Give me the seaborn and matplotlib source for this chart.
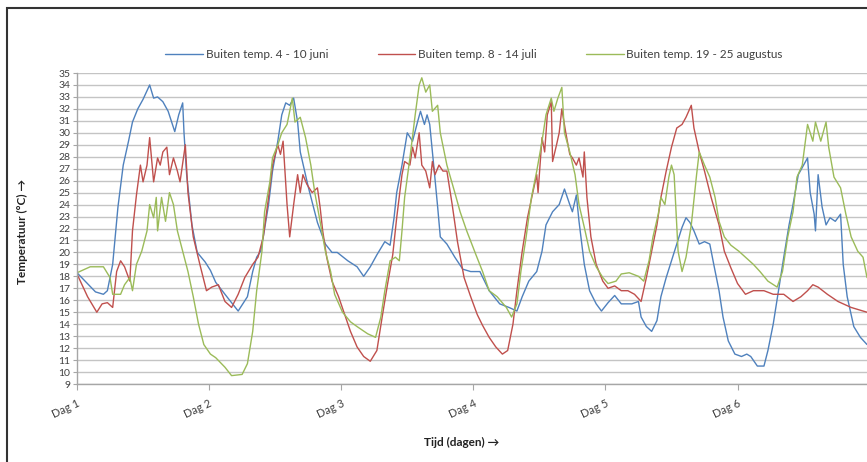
import numpy as np
import pandas as pd
import seaborn as sns
import matplotlib
matplotlib.use("Agg")
import matplotlib.pyplot as plt
from matplotlib.patches import Rectangle

juni_dag = [0.00, 0.14, 0.20, 0.23, 0.27, 0.31, 0.35, 0.39, 0.42, 0.46, 0.50, 0.55, 0.58, 0.61, 0.65,
            0.69, 0.74, 0.77, 0.80, 0.81, 0.83, 0.87, 0.91, 0.97, 1.01, 1.05, 1.12, 1.22, 1.29, 1.33,
            1.36, 1.39, 1.41, 1.45, 1.48, 1.52, 1.55, 1.58, 1.61, 1.64, 1.67, 1.69, 1.75, 1.82, 1.88,
            1.93, 1.97, 2.05, 2.12, 2.17, 2.22, 2.27, 2.33, 2.37, 2.40, 2.42, 2.46, 2.50, 2.54, 2.58,
            2.60, 2.63, 2.65, 2.67, 2.70, 2.73, 2.75, 2.80, 2.86, 2.92, 2.98, 3.05, 3.12, 3.20, 3.27,
            3.33, 3.37, 3.42, 3.48, 3.52, 3.55, 3.60, 3.65, 3.69, 3.73, 3.75, 3.78, 3.80, 3.84, 3.88,
            3.93, 3.97, 4.02, 4.07, 4.12, 4.20, 4.25, 4.27, 4.31, 4.35, 4.39, 4.42, 4.46, 4.50, 4.54,
            4.58, 4.61, 4.64, 4.67, 4.71, 4.75, 4.79, 4.82, 4.86, 4.89, 4.93, 4.98, 5.03, 5.07, 5.10,
            5.15, 5.20, 5.23, 5.27, 5.31, 5.35, 5.39, 5.42, 5.46, 5.50, 5.53, 5.55, 5.58, 5.59, 5.61,
            5.64, 5.67, 5.70, 5.74, 5.78, 5.80, 5.83, 5.88, 5.93, 5.98]
juni_temp = [18.3, 16.7, 16.5, 16.8, 19.0, 23.8, 27.3, 29.3, 30.9, 32.0, 32.8, 34.0, 32.9, 33.0, 32.6,
             31.8, 30.1, 31.5, 32.5, 30.0, 26.5, 22.3, 20.0, 19.2, 18.5, 17.5, 16.5, 15.1, 16.3, 18.4,
             19.6, 20.1, 21.3, 24.0, 26.8, 29.3, 31.5, 32.5, 32.3, 32.9, 30.9, 28.4, 25.5, 22.5, 20.7,
             20.0, 20.0, 19.3, 18.8, 18.0, 18.8, 19.8, 20.9, 20.6, 22.9, 25.0, 27.3, 30.0, 29.3, 31.0,
             31.8, 30.7, 31.5, 30.7, 27.3, 23.8, 21.3, 20.7, 19.6, 18.6, 18.4, 18.4, 16.8, 15.7, 15.4,
             15.1, 16.3, 17.6, 18.4, 20.1, 22.3, 23.4, 24.0, 25.3, 24.0, 23.4, 24.8, 22.6, 19.0, 16.8,
             15.7, 15.1, 15.8, 16.4, 15.7, 15.7, 15.9, 14.6, 13.8, 13.4, 14.3, 16.3, 17.9, 19.3, 20.7,
             22.1, 22.9, 22.5, 21.8, 20.7, 20.9, 20.7, 19.0, 16.8, 14.6, 12.6, 11.5, 11.3, 11.5, 11.3,
             10.5, 10.5, 11.8, 14.0, 16.8, 19.6, 22.3, 24.0, 26.5, 27.3, 27.9, 25.0, 23.2, 21.8, 26.5,
             23.8, 22.3, 22.9, 22.6, 23.2, 19.0, 16.3, 13.8, 12.9, 12.3]

juli_dag = [0.00, 0.08, 0.15, 0.19, 0.23, 0.27, 0.30, 0.33, 0.36, 0.40, 0.42, 0.45, 0.48, 0.50, 0.53,
            0.55, 0.58, 0.61, 0.63, 0.65, 0.68, 0.70, 0.73, 0.76, 0.78, 0.82, 0.84, 0.88, 0.93, 0.98,
            1.02, 1.07, 1.12, 1.17, 1.22, 1.27, 1.33, 1.37, 1.41, 1.45, 1.48, 1.52, 1.54, 1.56, 1.59,
            1.61, 1.64, 1.67, 1.69, 1.71, 1.74, 1.78, 1.82, 1.84, 1.86, 1.89, 1.93, 1.98, 2.02, 2.07,
            2.12, 2.17, 2.22, 2.27, 2.31, 2.35, 2.39, 2.42, 2.46, 2.48, 2.52, 2.54, 2.56, 2.59, 2.61,
            2.64, 2.67, 2.69, 2.71, 2.74, 2.77, 2.80, 2.84, 2.88, 2.93, 2.98, 3.03, 3.07, 3.12, 3.17,
            3.22, 3.26, 3.30, 3.33, 3.37, 3.41, 3.45, 3.48, 3.49, 3.52, 3.54, 3.56, 3.59, 3.60, 3.63,
            3.65, 3.67, 3.70, 3.73, 3.75, 3.78, 3.80, 3.83, 3.84, 3.86, 3.89, 3.93, 3.98, 4.02, 4.07,
            4.12, 4.17, 4.22, 4.27, 4.31, 4.35, 4.39, 4.42, 4.46, 4.50, 4.54, 4.58, 4.61, 4.65, 4.67,
            4.71, 4.75, 4.80, 4.86, 4.90, 4.95, 5.00, 5.06, 5.12, 5.20, 5.27, 5.35, 5.42, 5.48, 5.53,
            5.57, 5.61, 5.68, 5.76, 5.86, 5.98]
juli_temp = [18.2, 16.3, 15.0, 15.7, 15.8, 15.4, 18.4, 19.3, 18.8, 17.6, 21.8, 24.8, 27.3, 25.9, 27.3,
             29.6, 25.9, 27.9, 27.3, 28.4, 28.8, 26.5, 27.9, 26.8, 25.9, 29.0, 25.0, 21.3, 19.0, 16.8,
             17.1, 17.3, 15.9, 15.4, 16.5, 17.9, 19.0, 19.6, 21.3, 24.6, 27.3, 29.0, 28.2, 29.3, 24.0,
             21.3, 24.0, 26.5, 25.0, 26.5, 25.7, 25.0, 25.4, 23.8, 21.8, 19.6, 17.6, 16.3, 15.0, 13.4,
             12.1, 11.3, 10.9, 11.8, 14.6, 17.3, 19.8, 22.9, 26.5, 27.6, 27.3, 28.8, 27.9, 30.0, 27.3,
             26.8, 25.4, 27.6, 26.5, 27.3, 26.8, 26.8, 24.0, 20.9, 17.9, 16.3, 14.8, 13.9, 12.9, 12.1,
             11.5, 11.8, 14.0, 16.8, 20.1, 22.9, 25.0, 26.5, 25.0, 29.6, 28.4, 31.5, 32.6, 27.6, 29.0,
             30.0, 32.0, 30.0, 28.2, 27.9, 27.3, 27.9, 26.3, 28.4, 24.6, 21.3, 19.0, 17.6, 17.0, 17.2,
             16.8, 16.8, 16.5, 15.9, 17.9, 20.1, 22.3, 24.6, 26.8, 28.8, 30.4, 30.7, 31.3, 32.3, 30.4,
             28.4, 26.8, 24.6, 22.3, 20.1, 18.7, 17.4, 16.5, 16.8, 16.8, 16.5, 16.5, 15.9, 16.3, 16.8,
             17.3, 17.1, 16.5, 15.9, 15.4, 15.0]

aug_dag = [0.00, 0.10, 0.20, 0.25, 0.27, 0.33, 0.36, 0.40, 0.42, 0.45, 0.49, 0.53, 0.55, 0.58, 0.60,
           0.61, 0.64, 0.67, 0.70, 0.73, 0.76, 0.80, 0.84, 0.88, 0.92, 0.96, 1.01, 1.05, 1.12, 1.17,
           1.25, 1.29, 1.33, 1.36, 1.40, 1.42, 1.46, 1.48, 1.52, 1.55, 1.59, 1.63, 1.65, 1.69, 1.73,
           1.77, 1.80, 1.84, 1.88, 1.92, 1.95, 2.01, 2.07, 2.12, 2.20, 2.26, 2.30, 2.33, 2.37, 2.41,
           2.44, 2.46, 2.48, 2.52, 2.56, 2.59, 2.61, 2.64, 2.67, 2.69, 2.73, 2.75, 2.80, 2.86, 2.90,
           2.95, 3.02, 3.07, 3.12, 3.18, 3.25, 3.29, 3.33, 3.36, 3.40, 3.44, 3.48, 3.52, 3.55, 3.59,
           3.61, 3.64, 3.67, 3.69, 3.73, 3.77, 3.80, 3.84, 3.88, 3.93, 3.98, 4.02, 4.08, 4.12, 4.18,
           4.25, 4.29, 4.33, 4.36, 4.40, 4.42, 4.45, 4.48, 4.50, 4.52, 4.55, 4.58, 4.61, 4.65, 4.69,
           4.71, 4.75, 4.79, 4.83, 4.86, 4.90, 4.95, 5.01, 5.07, 5.12, 5.17, 5.23, 5.30, 5.34, 5.38,
           5.42, 5.45, 5.49, 5.53, 5.57, 5.59, 5.63, 5.67, 5.69, 5.73, 5.78, 5.82, 5.86, 5.91, 5.95,
           5.98]
aug_temp = [18.3, 18.8, 18.8, 17.9, 16.5, 16.5, 17.3, 17.9, 16.8, 19.0, 20.1, 21.8, 24.0, 22.9, 24.6,
            21.8, 24.6, 22.6, 25.0, 24.0, 21.8, 20.1, 18.4, 16.3, 14.0, 12.3, 11.5, 11.2, 10.4, 9.7,
            9.8, 10.7, 13.4, 16.8, 20.1, 23.4, 25.9, 27.9, 29.0, 30.0, 30.7, 32.9, 30.9, 31.3, 29.6,
            27.3, 25.0, 22.6, 20.1, 18.4, 16.5, 15.0, 14.2, 13.8, 13.2, 12.9, 14.6, 16.8, 19.3, 19.6,
            19.3, 21.8, 24.6, 27.9, 31.5, 34.0, 34.6, 33.4, 34.0, 31.8, 32.3, 30.0, 27.3, 25.0, 23.4,
            21.8, 19.8, 18.4, 16.8, 16.3, 15.4, 14.6, 15.7, 18.4, 21.3, 24.6, 26.8, 29.3, 31.5, 32.9,
            31.8, 32.9, 33.8, 30.0, 28.4, 26.5, 24.0, 22.1, 20.1, 18.8, 17.9, 17.4, 17.6, 18.2, 18.3,
            18.0, 17.6, 19.3, 21.3, 23.2, 24.6, 24.0, 26.3, 27.3, 26.5, 20.1, 18.4, 19.6, 22.3, 26.5,
            28.4, 27.3, 26.3, 24.6, 22.6, 21.3, 20.6, 20.1, 19.5, 19.0, 18.4, 17.6, 17.1, 18.4, 21.3,
            23.4, 26.3, 27.3, 30.7, 29.3, 30.9, 29.3, 30.9, 28.8, 26.3, 25.4, 23.2, 21.3, 20.1, 19.6,
            17.9]

periodes = ["Buiten temp. 4 - 10 juni", "Buiten temp. 8 - 14 juli", "Buiten temp. 19 - 25 augustus"]
kleuren = ["#4F81BD", "#C0504D", "#9BBB59"]
dag_labels = ["Dag 1", "Dag 2", "Dag 3", "Dag 4", "Dag 5", "Dag 6"]

df = pd.concat([
    pd.DataFrame({"dag": juni_dag, "temp": juni_temp, "periode": periodes[0]}),
    pd.DataFrame({"dag": juli_dag, "temp": juli_temp, "periode": periodes[1]}),
    pd.DataFrame({"dag": aug_dag, "temp": aug_temp, "periode": periodes[2]}),
])

sns.set_style("white")
plt.rcParams['font.family'] = ['Lato', 'DejaVu Sans']

fig = plt.figure(figsize=(8.67, 4.62), dpi=100)
ax = fig.add_axes([77 / 867, 1 - 384 / 462, 1 - 77 / 867, 311 / 462])

sns.lineplot(data=df, x="dag", y="temp", hue="periode", hue_order=periodes,
             palette=kleuren, estimator=None, sort=False, lw=1.0, ax=ax)

handles, labels = ax.get_legend_handles_labels()
ax.get_legend().remove()
fig.legend(handles, labels, loc="center", bbox_to_anchor=(474 / 867, 1 - 55 / 462),
           ncol=3, frameon=False, fontsize=8.5, handlelength=3.2, handletextpad=0.2,
           columnspacing=4.2, labelcolor="#404040")

ax.set_xlim(0, 5.98)
ax.set_ylim(9, 35)
ax.set_yticks(range(9, 36))
ax.set_xticks(range(6))
ax.set_xticklabels(dag_labels, rotation=25, ha="right", rotation_mode="anchor")
ax.yaxis.grid(True, color="#c4c4c4", lw=1.0)
ax.xaxis.grid(False)
ax.set_axisbelow(True)
ax.set_xlabel("")
ax.set_ylabel("")

for side in ["top", "right"]:
    ax.spines[side].set_visible(False)
for side in ["left", "bottom"]:
    ax.spines[side].set_color("#a6a6a6")
    ax.spines[side].set_linewidth(1.0)

ax.tick_params(axis="y", length=3, color="#a6a6a6", labelsize=7.5, pad=2, labelcolor="#404040", left=True)
ax.tick_params(axis="x", length=4, color="#a6a6a6", labelsize=8, pad=6, labelcolor="#404040", bottom=True)

fig.text(22 / 867, 0.5, "Temperatuur (°C) →", rotation=90, weight="bold",
         fontsize=8.5, ha="center", va="center", color="#222222")
fig.text(462 / 867, 1 - 442 / 462, "Tijd (dagen) →", weight="bold",
         fontsize=8.5, ha="center", va="center", color="#222222")

fig.add_artist(Rectangle((7 / 867, -0.05), 1.1, 1.05 - 8 / 462, transform=fig.transFigure,
                         fill=False, lw=1.5, ec="#333333"))

fig.savefig("out.png", dpi=100)
